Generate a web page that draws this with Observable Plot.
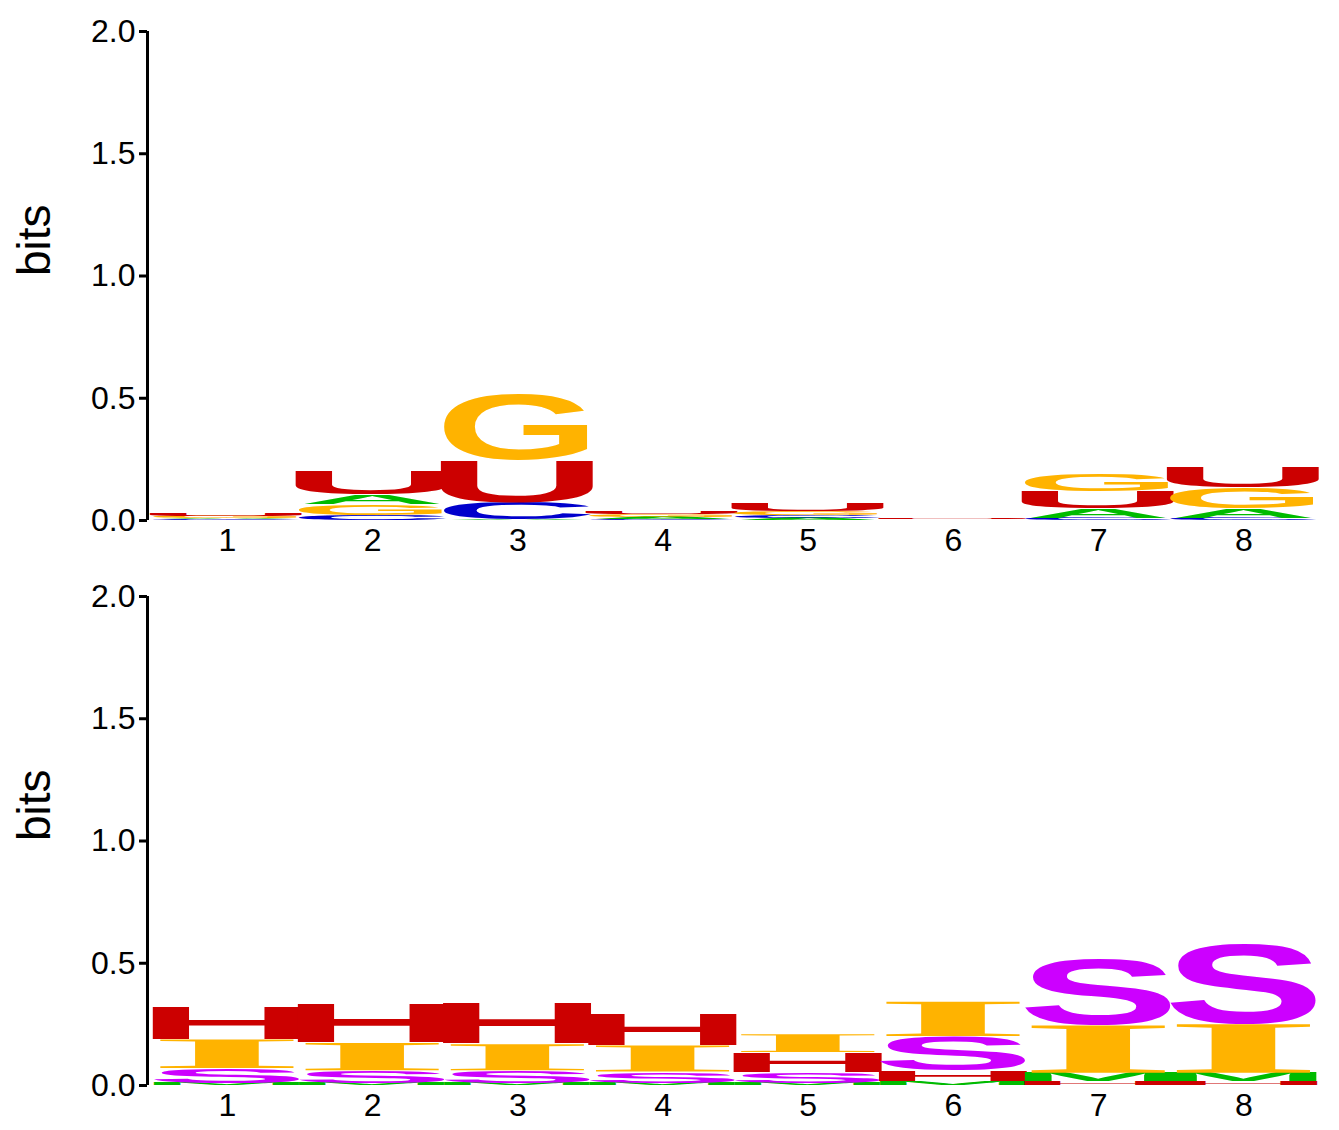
<!DOCTYPE html>
<html><head><meta charset="utf-8">
<script src="https://cdn.jsdelivr.net/npm/d3@7"></script>
<script src="https://cdn.jsdelivr.net/npm/@observablehq/plot@0.6"></script>
<style>body{margin:0;background:#fff}svg{display:block}</style>
</head><body><div id="c"></div>
<script>
const positions = [1,2,3,4,5,6,7,8];
// top panel: letters bottom->top per position, heights in bits
const rnaStacks = [
  [["C",0.005],["A",0.005],["G",0.008],["U",0.012]],
  [["C",0.02],["G",0.045],["A",0.04],["U",0.095]],
  [["A",0.005],["C",0.07],["U",0.175],["G",0.27]],
  [["C",0.004],["A",0.01],["G",0.01],["U",0.012]],
  [["A",0.01],["C",0.012],["G",0.015],["U",0.03]],
  [["C",0.001],["A",0.001],["G",0.001],["U",0.002]],
  [["C",0.01],["A",0.04],["U",0.07],["G",0.07]],
  [["C",0.01],["A",0.04],["G",0.085],["U",0.085]]
];
const structStacks = [
  [["M",0.01],["S",0.06],["I",0.12],["H",0.135]],
  [["M",0.01],["S",0.05],["I",0.115],["H",0.16]],
  [["M",0.01],["S",0.05],["I",0.11],["H",0.17]],
  [["M",0.01],["S",0.045],["I",0.11],["H",0.13]],
  [["M",0.01],["S",0.045],["H",0.08],["I",0.075]],
  [["M",0.015],["H",0.045],["S",0.14],["I",0.145]],
  [["H",0.015],["M",0.035],["I",0.2],["S",0.27]],
  [["H",0.015],["M",0.035],["I",0.205],["S",0.33]]
];
const colors = {A:"#00bb00",C:"#0000cc",G:"#ffb300",U:"#cc0000",S:"#cc00ff",I:"#ffb300",H:"#cc0000",M:"#00bb00"};
const yTicks = [0,0.5,1,1.5,2];
const metrics = {
  A:[0,722,716,"Liberation Sans"],C:[44,690,716,"Liberation Sans"],G:[44,730,716,"Liberation Sans"],
  U:[75,650,716,"Liberation Sans"],S:[30,630,716,"Liberation Sans"],H:[73,650,716,"Liberation Sans"],
  M:[70,765,716,"Liberation Sans"],I:[19,370,676,"Liberation Serif"]
};
function rows(stacks){
  const out=[];
  stacks.forEach((st,i)=>{let y=0;st.forEach(([l,h])=>{out.push({pos:positions[i],letter:l,y1:y,y2:y+h});y+=h;});});
  return out;
}
function letterRender(data, index, values, ctx){
  const g = ctx.document.createElementNS("http://www.w3.org/2000/svg","g");
  g.setAttribute("text-anchor","start");
  for (const i of index){
    const d = data[i];
    const xa = Math.min(values.x1[i], values.x2[i]), xb = Math.max(values.x1[i], values.x2[i]);
    const ya = values.y1[i], yb = values.y2[i];
    const h = Math.abs(ya-yb); if (h < 0.3) continue;
    const [l,r,cap,font] = metrics[d.letter];
    const sx = (xb-xa)/((r-l)/10), sy = h/(cap/10);
    const t = ctx.document.createElementNS("http://www.w3.org/2000/svg","text");
    t.setAttribute("x",0);t.setAttribute("y",0);
    t.setAttribute("text-anchor","start");
    t.setAttribute("font-size",100);t.setAttribute("font-weight","bold");
    t.setAttribute("font-family",font);t.setAttribute("fill",colors[d.letter]);
    t.setAttribute("transform",`translate(${xa - (l/10)*sx},${Math.max(ya,yb)}) scale(${sx},${sy})`);
    t.textContent = d.letter;
    g.appendChild(t);
  }
  return g;
}
function panel(stacks){
  const data = rows(stacks);
  const m = Plot.rect(data,{x1:d=>d.pos-0.5,x2:d=>d.pos+0.5,y1:"y1",y2:"y2",render:(i,s,v,dm,c)=>letterRender(data,i,v,c)});
  return Plot.plot({
    width:1339,height:565,marginLeft:147,marginRight:23,marginTop:31,marginBottom:45,
    style:{fontFamily:"Liberation Sans, Arial, sans-serif",fontSize:"32px",color:"#000"},
    x:{domain:[0.45,8.5]},
    y:{domain:[0,2]},
    marks:[
      m,
      Plot.ruleX([0.45],{y1:0,y2:2,strokeWidth:3,stroke:"#000"}),
      Plot.axisY({ticks:yTicks,tickFormat:d3.format(".1f"),tickSize:8,tickPadding:4,strokeWidth:3,label:null,fontSize:32}),
      Plot.axisX({ticks:positions,tickFormat:d=>String(d),tickSize:0,tickPadding:8,label:null,fontSize:32}),
      Plot.text(["bits"],{frameAnchor:"left",dx:-112,rotate:-90,fontSize:46,text:d=>d})
    ]
  });
}
const c=document.getElementById("c");
c.appendChild(panel(rnaStacks));
c.appendChild(panel(structStacks));
</script></body></html>
